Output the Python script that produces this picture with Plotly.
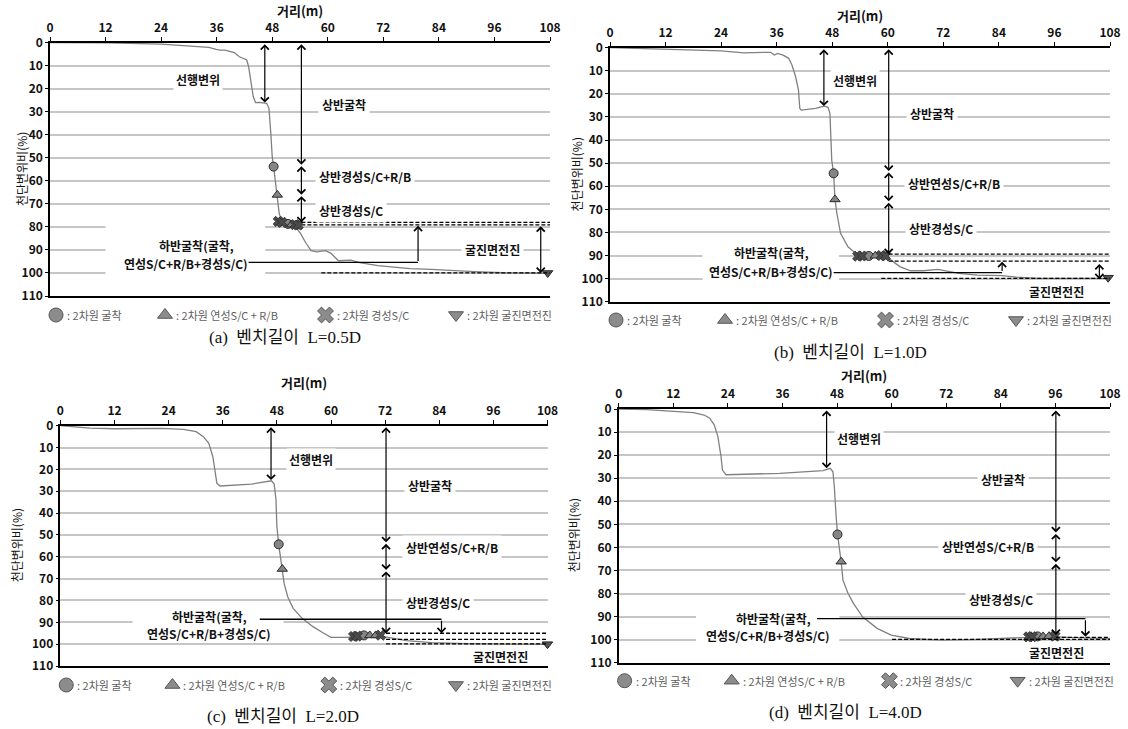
import plotly.graph_objects as go

SANS = "Noto Sans CJK KR, Noto Sans, sans-serif"
SERIF = "Liberation Serif, Noto Sans CJK KR, serif"
W, H = 1128, 729

# ---------------------------------------------------------------- axes
x_tick_vals = [0, 12, 24, 36, 48, 60, 72, 84, 96, 108]
y_tick_vals = [0, 10, 20, 30, 40, 50, 60, 70, 80, 90, 100, 110]
x_title = "거리(m)"
y_title = "천단변위비(%)"

legend_labels = [": 2차원 굴착", ": 2차원 연성S/C + R/B", ": 2차원 경성S/C", ": 2차원 굴진면전진"]
captions = ["(a)  벤치길이  L=0.5D", "(b)  벤치길이  L=1.0D",
            "(c)  벤치길이  L=2.0D", "(d)  벤치길이  L=4.0D"]

# ---------------------------------------------------------------- (a) L=0.5D
dist_a = [0, 12.6, 24, 29.7, 34.3, 35.9, 36.7, 37.8, 39.8, 40.9, 41.7, 42.5, 42.9, 43.4,
          43.9, 44.4, 45.2, 46.8, 47.3, 47.7, 48.0, 48.3, 49.1, 49.5, 50.2, 51.4, 53.0,
          54.1, 55.3, 56.4, 57.6, 59.5, 60.7, 62.3, 65.0, 66.9, 70.8, 73.9, 77.8, 82.4,
          87.1, 91.7, 97.9, 108]
ratio_a = [0, 0.1, 0.6, 1.3, 2.0, 2.9, 3.2, 3.2, 4.3, 6.1, 6.8, 7.5, 10.4, 16.2,
           23.4, 26.0, 25.9, 26.3, 28.5, 39.4, 49.5, 53.8, 66.1, 74.1, 78.4, 79.9, 79.9,
           82.8, 87.1, 90.3, 90.8, 90.3, 91.5, 94.7, 94.4, 95.5, 96.8, 97.3, 98.1, 98.4,
           99.0, 99.4, 99.9, 100.2]
exc_x_a, exc_y_a = [48.3, 51.4], [53.8, 78.7]
soft_x_a, soft_y_a = [49.1, 52.2], [66.1, 79.0]
hard_x_a, hard_y_a = [49.3, 50.1, 52.9, 53.6], [77.6, 78.0, 79.0, 79.2]
adv_x_a, adv_y_a = [107.5], [100.0]

# ---------------------------------------------------------------- (b) L=1.0D
dist_b = [0, 12, 18, 24, 28.9, 34.7, 35.5, 36.2, 37.4, 38.6, 39.3, 40.1, 40.7, 41.0,
          41.3, 44.4, 46.3, 47.1, 47.5, 47.7, 47.9, 48.3, 48.6, 49.0, 49.8, 51.4, 53.3,
          56.0, 59.1, 60.7, 62.6, 64.9, 67.7, 70.8, 72.3, 75.4, 79.3, 84.7, 87.8, 92.5, 108]
ratio_b = [0, 0.7, 1.3, 1.4, 2.2, 2.0, 3.2, 2.5, 3.2, 4.6, 7.5, 12.6, 18.3, 26.3,
           27.0, 26.3, 25.3, 25.8, 28.4, 37.1, 48.7, 54.4, 65.7, 71.7, 80.4, 86.2, 89.4,
           90.2, 90.5, 92.0, 94.8, 96.6, 96.6, 96.0, 96.6, 97.7, 98.5, 98.7, 99.4, 99.9, 99.9]
exc_x_b, exc_y_b = [48.3, 55.9], [54.4, 90.2]
soft_x_b, soft_y_b = [48.6, 57.3], [65.7, 90.1]
hard_x_b, hard_y_b = [53.5, 54.4, 58.6, 59.5], [90.3, 90.2, 90.0, 90.2]
adv_x_b, adv_y_b = [107.6], [99.6]

# ---------------------------------------------------------------- (c) L=2.0D
dist_c = [0, 6.5, 12.1, 22.5, 27.3, 30.1, 31.7, 32.9, 33.8, 34.3, 34.7, 35.4, 42.4,
          46.8, 47.4, 47.8, 48.0, 48.4, 49.2, 49.6, 50.4, 51.6, 53.6, 56.0, 58.4, 60.0,
          63.2, 65.6, 71.1, 73.5, 76.7, 82.3, 90.3, 108]
ratio_c = [0, 1.1, 1.4, 1.2, 1.7, 2.7, 5.0, 8.1, 14.2, 20.3, 26.4, 27.6, 26.7,
           25.2, 26.7, 34.0, 46.2, 54.3, 65.6, 72.2, 78.3, 83.6, 88.2, 92.0, 95.0, 96.9,
           96.9, 96.6, 96.3, 97.3, 98.4, 99.3, 99.8, 100.1]
exc_x_c, exc_y_c = [48.4, 67.3], [54.3, 96.0]
soft_x_c, soft_y_c = [49.2, 68.6, 69.9], [65.6, 96.0, 96.0]
hard_x_c, hard_y_c = [65.0, 65.8, 71.0], [96.5, 96.3, 95.9]
adv_x_c, adv_y_c = [108.0], [100.0]

# ---------------------------------------------------------------- (d) L=4.0D
dist_d = [0, 6.2, 12.1, 16.4, 18.8, 20.0, 21.0, 21.8, 22.5, 22.8, 23.6, 35.4, 44.9,
          46.5, 47.1, 47.4, 47.8, 48.1, 48.9, 49.3, 50.4, 51.6, 53.6, 56.8, 59.9, 63.9,
          71.0, 78.9, 90.0, 95.5, 98.7, 108]
ratio_d = [0, 0.3, 1.0, 1.6, 2.6, 4.0, 6.9, 12.0, 20.7, 26.5, 28.5, 27.9, 26.7,
           25.7, 27.2, 33.7, 46.7, 54.4, 66.2, 74.2, 79.9, 84.3, 90.1, 95.1, 98.0, 99.5,
           100.2, 99.9, 99.0, 98.7, 99.0, 99.6]
exc_x_d, exc_y_d = [48.1, 92.1], [54.4, 98.6]
soft_x_d, soft_y_d = [48.9, 93.3, 94.6], [66.2, 98.6, 98.5]
hard_x_d, hard_y_d = [90.1, 90.9, 95.9], [98.8, 98.7, 98.5]
adv_x_d, adv_y_d = [], []

# ---------------------------------------------------------------- stage markers
# pre-displacement arrow (x, ratio at arrival), upper-half arrow stations and stops
pre_arrow = {"a": (46.4, 26.0), "b": (46.2, 25.3), "c": (46.7, 24.9), "d": (45.7, 25.7)}
upper_x = {"a": 54.3, "b": 60.2, "c": 72.2, "d": 96.1}
upper_stops = {"a": [0, 53, 66, 78], "b": [0, 53.4, 66.5, 89.4],
               "c": [0, 53.4, 66, 95], "d": [0, 53.5, 66.5, 98]}
# dashed reference levels (ratio, start distance)
dash_levels = {"a": [(78.0, 54.3), (79.1, 54.3), (100.0, 58.6)],
               "b": [(89.4, 60.2), (92.4, 60.2), (99.9, 58.6)],
               "c": [(95.0, 72.2), (97.8, 72.2), (99.9, 72.2)],
               "d": [(99.0, 96.1), (99.9, 60.1)]}
# lower-half leader: (start x, line level, turn x, arrow end level)
lower_leader = {"a": (42.9, 95.4, 79.5, 79.5), "b": (48.3, 97.4, 84.7, 92.7),
                "c": (44.2, 88.6, 84.5, 95.0), "d": (43.6, 90.9, 102.6, 98.7)}
# face advance arrow (x, from, to)
face_arrow = {"a": (106.0, 79.1, 100.0), "b": (105.7, 93.0, 100.3), "c": None, "d": None}

upper_names = {"a": ["상반굴착", "상반경성S/C+R/B", "상반경성S/C"],
               "b": ["상반굴착", "상반연성S/C+R/B", "상반경성S/C"],
               "c": ["상반굴착", "상반연성S/C+R/B", "상반경성S/C"],
               "d": ["상반굴착", "상반연성S/C+R/B", "상반경성S/C"]}
pre_name = "선행변위"
lower_names = ["하반굴착(굴착,", "연성S/C+R/B+경성S/C)"]
face_name = "굴진면전진"

# label anchor points (x, y) in data units
label_pos = {
    "a": dict(pre=(31.9, 16), up=[(63.4, 26.8), (68, 58), (65, 73)],
              low=[(31.6, 87.9), (29.3, 95.8)], face=(95.6, 90)),
    "b": dict(pre=(52.9, 14.4), up=[(69.6, 28.4), (74.3, 58.8), (71.5, 78.2)],
              low=[(34.8, 88.6), (34.8, 97.0)], face=(96.5, 105.7)),
    "c": dict(pre=(55.6, 15.3), up=[(81.9, 27.5), (86.9, 55.8), (83.8, 81)],
              low=[(33.0, 87.4), (32.9, 95.3)], face=(97.5, 105.7)),
    "d": dict(pre=(52.8, 13.0), up=[(84.4, 30.4), (81.1, 59.7), (84.0, 82.5)],
              low=[(34.0, 91.0), (32.8, 98.4)], face=(96.3, 105.5)),
}
# face label needs a white box only where it sits on a gridline
face_boxed = {"a": True, "b": False, "c": False, "d": False}
# white backing behind the lower-half text block (x0, x1, y0, y1)
low_mask = {"a": (12, 46.5, 78.5, 102), "b": (20, 49.5, 85, 102),
            "c": (16, 49.5, 84, 97.5), "d": (17, 48.5, 86, 102)}

# ---------------------------------------------------------------- page geometry (px)
# plot box, legend row, caption centre, x-title row, y-title column
geom = {
    "a": dict(l=50, r=550, t=42.7, b=296, leg=315, cap=(285, 337), xt=10, yt=21.7),
    "b": dict(l=610, r=1110, t=47.7, b=301.7, leg=320, cap=(850, 352), xt=15, yt=576.7),
    "c": dict(l=60.4, r=547.5, t=425.7, b=666, leg=685, cap=(283, 716), xt=382, yt=16.5),
    "d": dict(l=618.7, r=1110, t=409, b=662.7, leg=680.7, cap=(845, 712.7), xt=376, yt=573.5),
}

panels = [
    ("a", dist_a, ratio_a, exc_x_a, exc_y_a, soft_x_a, soft_y_a, hard_x_a, hard_y_a, adv_x_a, adv_y_a),
    ("b", dist_b, ratio_b, exc_x_b, exc_y_b, soft_x_b, soft_y_b, hard_x_b, hard_y_b, adv_x_b, adv_y_b),
    ("c", dist_c, ratio_c, exc_x_c, exc_y_c, soft_x_c, soft_y_c, hard_x_c, hard_y_c, adv_x_c, adv_y_c),
    ("d", dist_d, ratio_d, exc_x_d, exc_y_d, soft_x_d, soft_y_d, hard_x_d, hard_y_d, adv_x_d, adv_y_d),
]

GRAY_FILL = "#858585"
DARK = "#2a2a2a"
marker_styles = [
    dict(symbol="circle", size=9, color=GRAY_FILL, line=dict(color=DARK, width=1)),
    dict(symbol="triangle-up", size=9, color=GRAY_FILL, line=dict(color=DARK, width=1)),
    dict(symbol="x", size=9, color="#4a4a4a", line=dict(color=DARK, width=0.8)),
    dict(symbol="triangle-down", size=9, color="#555555", line=dict(color=DARK, width=1)),
]
legend_styles = [
    dict(symbol="circle", size=14, color="#8c8c8c", line=dict(color="#555", width=1)),
    dict(symbol="triangle-up", size=13, color="#8c8c8c", line=dict(color="#555", width=1)),
    dict(symbol="x", size=14, color="#8c8c8c", line=dict(color="#555", width=1)),
    dict(symbol="triangle-down", size=13, color="#8c8c8c", line=dict(color="#555", width=1)),
]
legend_frac = [0.012, 0.230, 0.551, 0.812]

fig = go.Figure()
annotations = []
shapes = []
layout_axes = {}

label_font = dict(family=SANS, size=12, color="#111", weight="bold")


def arrow(xr, yr, x, y_from, y_to, both=True):
    return dict(xref=xr, yref=yr, axref=xr, ayref=yr, x=x, y=y_to, ax=x, ay=y_from,
                text="", showarrow=True, arrowhead=4, startarrowhead=4,
                arrowside="end+start" if both else "end",
                arrowsize=1.3, startarrowsize=1.3, arrowwidth=1.2, arrowcolor="#000")


def page_text(px, py, text, font, **kw):
    """Text centred on a page position given in pixels."""
    return dict(xref="paper", yref="paper", x=px / W, y=1 - py / H, text=text,
                xanchor="center", yanchor="middle", showarrow=False, font=font, **kw)


for i, (key, dist, ratio, ex, ey, sx, sy, hx, hy, ax_, ay_) in enumerate(panels):
    n = i + 1
    sfx = "" if n == 1 else str(n)
    xr, yr = "x" + sfx, "y" + sfx
    g = geom[key]

    # displacement curve
    fig.add_trace(go.Scatter(x=dist, y=ratio, mode="lines", xaxis=xr, yaxis=yr,
                             line=dict(color="#808080", width=1.3),
                             showlegend=False, hoverinfo="skip"))
    # stage markers
    for (mx, my), st in zip([(ex, ey), (sx, sy), (hx, hy), (ax_, ay_)], marker_styles):
        if mx:
            fig.add_trace(go.Scatter(x=mx, y=my, mode="markers", xaxis=xr, yaxis=yr,
                                     marker=st, cliponaxis=False, showlegend=False,
                                     hoverinfo="skip"))

    layout_axes["xaxis" + sfx] = dict(
        domain=[g["l"] / W, g["r"] / W], anchor=yr, side="top", range=[0, 108],
        tickmode="array", tickvals=x_tick_vals, ticks="outside", ticklen=4,
        tickcolor="#000", automargin=False,
        tickfont=dict(family=SANS, size=12, color="#111", weight="bold"),
        showline=True, linecolor="#000", linewidth=1.5, mirror=True,
        showgrid=False, zeroline=False)
    layout_axes["yaxis" + sfx] = dict(
        domain=[1 - g["b"] / H, 1 - g["t"] / H], anchor=xr, range=[110, 0],
        tickmode="array", tickvals=y_tick_vals, ticks="outside", ticklen=3,
        tickcolor="#000", automargin=False,
        tickfont=dict(family=SANS, size=12, color="#111", weight="bold"),
        showline=True, linecolor="#000", linewidth=1.5,
        showgrid=True, gridcolor="#c6c6c6", gridwidth=1.5, zeroline=False)

    # axis titles
    annotations.append(page_text((g["l"] + g["r"]) / 2, g["xt"], x_title,
                                 dict(family=SANS, size=13, color="#111", weight="bold")))
    annotations.append(page_text(g["yt"], (g["t"] + g["b"]) / 2, y_title,
                                 dict(family=SANS, size=12, color="#111"), textangle=-90))

    lp = label_pos[key]
    # white block behind lower-half text
    mx0, mx1, my0, my1 = low_mask[key]
    shapes.append(dict(type="rect", xref=xr, yref=yr, x0=mx0, x1=mx1, y0=my0, y1=my1,
                       fillcolor="white", line=dict(width=0), layer="between"))

    # pre-displacement arrow
    px_, py_ = pre_arrow[key]
    annotations.append(arrow(xr, yr, px_, 0, py_))
    annotations.append(dict(xref=xr, yref=yr, x=lp["pre"][0], y=lp["pre"][1], text=pre_name,
                            showarrow=False, font=label_font, bgcolor="white", borderpad=2))

    # upper-half stage arrows
    stops = upper_stops[key]
    for a0, a1 in zip(stops[:-1], stops[1:]):
        annotations.append(arrow(xr, yr, upper_x[key], a0, a1))
    for name, (tx, ty) in zip(upper_names[key], lp["up"]):
        annotations.append(dict(xref=xr, yref=yr, x=tx, y=ty, text=name, showarrow=False,
                                font=label_font, bgcolor="white", borderpad=3))

    # dashed reference levels
    for lvl, x0 in dash_levels[key]:
        shapes.append(dict(type="line", xref=xr, yref=yr, x0=x0, x1=108, y0=lvl, y1=lvl,
                           line=dict(color="#000", width=1.3, dash="4px,2px"), layer="above"))

    # lower-half leader
    lx0, ly, lx1, lend = lower_leader[key]
    shapes.append(dict(type="line", xref=xr, yref=yr, x0=lx0, x1=lx1, y0=ly, y1=ly,
                       line=dict(color="#000", width=1.3), layer="above"))
    annotations.append(arrow(xr, yr, lx1, ly, lend, both=False))
    for name, (tx, ty) in zip(lower_names, lp["low"]):
        annotations.append(dict(xref=xr, yref=yr, x=tx, y=ty, text=name, showarrow=False,
                                font=label_font))

    # face advance
    face = dict(xref=xr, yref=yr, x=lp["face"][0], y=lp["face"][1], text=face_name,
                showarrow=False, font=label_font)
    if face_boxed[key]:
        face.update(bgcolor="white", borderpad=3)
    annotations.append(face)
    if face_arrow[key]:
        fx, f0, f1 = face_arrow[key]
        annotations.append(arrow(xr, yr, fx, f0, f1))

    # legend strip: its own hidden axes pair just under the plot
    ln = 4 + n
    lxr, lyr = "x%d" % ln, "y%d" % ln
    layout_axes["xaxis%d" % ln] = dict(domain=[g["l"] / W, g["r"] / W], range=[0, 1],
                                       anchor=lyr, visible=False, fixedrange=True,
                                       automargin=False)
    layout_axes["yaxis%d" % ln] = dict(domain=[1 - (g["leg"] + 9) / H, 1 - (g["leg"] - 9) / H],
                                       range=[0, 1], anchor=lxr, visible=False, fixedrange=True,
                                       automargin=False)
    for k in range(4):
        fig.add_trace(go.Scatter(x=[legend_frac[k]], y=[0.5], mode="markers",
                                 xaxis=lxr, yaxis=lyr, marker=legend_styles[k],
                                 showlegend=False, hoverinfo="skip", cliponaxis=False))
        annotations.append(dict(xref=lxr, yref=lyr, x=legend_frac[k], y=0.5, xshift=9,
                                text=legend_labels[k], xanchor="left", showarrow=False,
                                font=dict(family=SANS, size=11, color="#606060")))

    # caption
    annotations.append(page_text(g["cap"][0], g["cap"][1], captions[i],
                                 dict(family=SERIF, size=17, color="#111")))

fig.update_layout(
    width=W, height=H, margin=dict(l=0, r=0, t=0, b=0, pad=0, autoexpand=False),
    paper_bgcolor="white", plot_bgcolor="rgba(0,0,0,0)",
    showlegend=False, annotations=annotations, shapes=shapes,
    font=dict(family=SANS), **layout_axes)

fig.write_html("out.html")
